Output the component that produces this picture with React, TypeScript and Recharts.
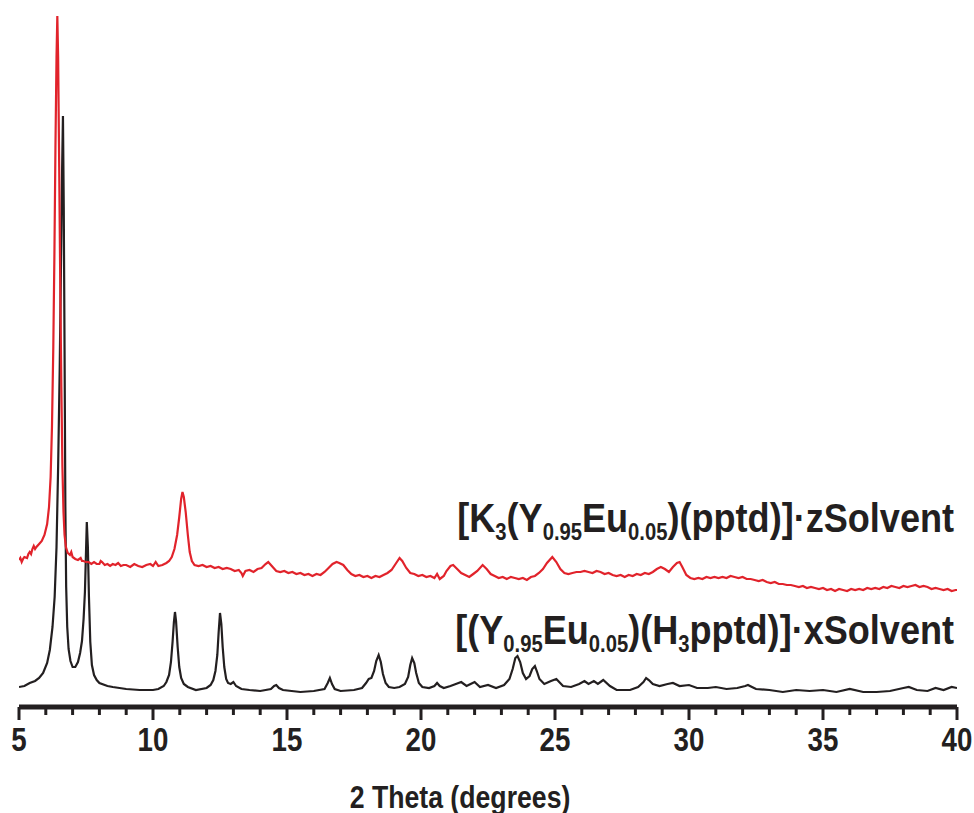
import { LineChart, Line, XAxis, YAxis, Customized } from "recharts";

// 2θ (degrees) vs intensity (a.u.), black = [(Y0.95Eu0.05)(H3pptd)]·xSolvent
const blackScan: [number, number][] = [
  [5.0, 20], [5.2, 21], [5.4, 24], [5.6, 26], [5.75, 29], [5.9, 34], [6.05, 44], [6.15, 57],
  [6.25, 80], [6.33, 110], [6.4, 160], [6.46, 240], [6.52, 340], [6.57, 450], [6.61, 540], [6.64, 591],
  [6.67, 500], [6.7, 357], [6.73, 200], [6.76, 120], [6.8, 80], [6.85, 58], [6.92, 46], [7.0, 40],
  [7.1, 40], [7.2, 45], [7.28, 54], [7.35, 66], [7.41, 88], [7.46, 115], [7.5, 155], [7.53, 185],
  [7.57, 160], [7.61, 110], [7.66, 65], [7.72, 42], [7.8, 32], [7.9, 27], [8.0, 24], [8.3, 21],
  [8.5, 20], [9.0, 18], [9.5, 17], [10.0, 17], [10.2, 18], [10.4, 21], [10.5, 25], [10.6, 32],
  [10.67, 45], [10.73, 65], [10.78, 85], [10.82, 95], [10.86, 86], [10.92, 60], [10.98, 40], [11.05, 29],
  [11.15, 23], [11.3, 20], [11.6, 17], [12.0, 19], [12.15, 22], [12.25, 27], [12.33, 36], [12.4, 52],
  [12.45, 75], [12.5, 94], [12.55, 83], [12.6, 60], [12.66, 40], [12.73, 28], [12.8, 24], [12.9, 23],
  [13.0, 25], [13.1, 21], [13.3, 18], [13.6, 17], [14.0, 16], [14.4, 18], [14.52, 21], [14.6, 22],
  [14.7, 19], [14.85, 17], [15.5, 15], [16.0, 16], [16.4, 18], [16.52, 24], [16.6, 29], [16.68, 23],
  [16.78, 18], [17.0, 16], [17.5, 17], [17.8, 19], [17.95, 24], [18.05, 28], [18.15, 29], [18.25, 36],
  [18.33, 46], [18.42, 52], [18.5, 45], [18.58, 33], [18.68, 24], [18.8, 20], [19.0, 19], [19.2, 20],
  [19.4, 23], [19.52, 30], [19.6, 42], [19.67, 49], [19.75, 44], [19.82, 34], [19.92, 24], [20.05, 20],
  [20.3, 19], [20.5, 21], [20.6, 24], [20.7, 21], [20.85, 19], [21.1, 21], [21.3, 23], [21.5, 25],
  [21.7, 21], [21.85, 23], [22.0, 25], [22.2, 20], [22.5, 22], [22.8, 19], [23.1, 22], [23.3, 28],
  [23.42, 38], [23.52, 49], [23.6, 51], [23.7, 45], [23.8, 34], [23.92, 28], [24.05, 31], [24.15, 38],
  [24.25, 41], [24.32, 36], [24.42, 28], [24.6, 23], [24.85, 26], [25.05, 28], [25.3, 21], [25.6, 20],
  [25.9, 23], [26.1, 26], [26.25, 23], [26.45, 26], [26.6, 23], [26.8, 27], [27.05, 21], [27.3, 17],
  [27.8, 17], [28.1, 20], [28.3, 25], [28.4, 29], [28.5, 27], [28.65, 23], [28.9, 21], [29.2, 23],
  [29.4, 24], [29.65, 21], [30.0, 22], [30.3, 19], [30.7, 19], [31.0, 20], [31.4, 18], [31.8, 19],
  [32.1, 21], [32.2, 22], [32.35, 20], [32.5, 18], [33.0, 17], [33.5, 15], [34.0, 17], [34.5, 16],
  [35.0, 17], [35.5, 15], [36.0, 18], [36.5, 15], [37.0, 15], [37.5, 16], [38.0, 19], [38.2, 20],
  [38.5, 17], [38.9, 16], [39.2, 19], [39.5, 17], [39.8, 20], [40.0, 19],
];

// red = [K3(Y0.95Eu0.05)(pptd)]·zSolvent, offset upward
const redScan: [number, number][] = [
  [5.0, 147], [5.05, 149], [5.1, 145], [5.15, 148], [5.2, 150], [5.3, 149], [5.35, 153], [5.4, 155],
  [5.45, 153], [5.5, 158], [5.55, 161], [5.6, 158], [5.65, 160], [5.75, 163], [5.85, 166], [5.95, 172],
  [6.05, 183], [6.12, 200], [6.18, 230], [6.23, 280], [6.28, 360], [6.32, 450], [6.36, 560], [6.4, 650],
  [6.43, 691], [6.46, 650], [6.5, 540], [6.54, 420], [6.58, 320], [6.62, 240], [6.66, 195], [6.7, 172],
  [6.75, 160], [6.82, 154], [6.9, 152], [6.95, 155], [7.0, 150], [7.1, 148], [7.2, 147], [7.3, 149],
  [7.35, 146], [7.4, 146], [7.5, 145], [7.6, 145], [7.7, 143], [7.8, 145], [7.9, 143], [8.0, 143],
  [8.05, 146], [8.1, 145], [8.2, 142], [8.3, 143], [8.4, 141], [8.5, 143], [8.6, 142], [8.7, 144],
  [8.8, 141], [8.9, 142], [9.0, 142], [9.15, 140], [9.3, 143], [9.45, 141], [9.6, 140], [9.75, 142],
  [9.9, 143], [10.0, 141], [10.1, 145], [10.2, 141], [10.35, 142], [10.5, 144], [10.6, 146], [10.7, 150],
  [10.8, 158], [10.9, 172], [10.98, 190], [11.05, 208], [11.1, 215], [11.15, 210], [11.22, 195], [11.3, 172],
  [11.37, 155], [11.45, 146], [11.55, 142], [11.7, 141], [11.85, 142], [12.0, 140], [12.15, 141], [12.3, 139],
  [12.45, 140], [12.6, 138], [12.75, 139], [12.9, 138], [13.05, 136], [13.2, 137], [13.3, 134], [13.35, 131],
  [13.45, 136], [13.6, 137], [13.75, 135], [13.9, 138], [14.05, 139], [14.2, 143], [14.3, 145], [14.4, 142],
  [14.5, 139], [14.6, 136], [14.75, 135], [14.9, 136], [15.05, 134], [15.2, 135], [15.35, 133], [15.5, 134],
  [15.65, 132], [15.8, 133], [15.95, 131], [16.1, 133], [16.25, 132], [16.4, 135], [16.55, 139], [16.7, 143],
  [16.85, 145], [16.95, 144], [17.1, 142], [17.25, 137], [17.4, 133], [17.55, 131], [17.7, 132], [17.85, 130],
  [18.0, 131], [18.15, 129], [18.3, 131], [18.45, 130], [18.6, 132], [18.75, 134], [18.9, 137], [19.05, 143],
  [19.2, 149], [19.3, 146], [19.45, 139], [19.6, 134], [19.75, 133], [19.9, 131], [20.05, 132], [20.2, 130],
  [20.35, 131], [20.5, 129], [20.6, 133], [20.7, 128], [20.85, 131], [20.95, 136], [21.1, 141], [21.2, 142],
  [21.35, 138], [21.5, 134], [21.65, 132], [21.8, 130], [21.95, 133], [22.1, 136], [22.3, 142], [22.45, 138],
  [22.6, 133], [22.75, 131], [22.9, 129], [23.05, 130], [23.2, 128], [23.35, 130], [23.5, 129], [23.65, 128],
  [23.8, 129], [23.95, 127], [24.1, 130], [24.25, 131], [24.4, 134], [24.55, 138], [24.7, 144], [24.9, 150],
  [25.05, 145], [25.2, 138], [25.35, 134], [25.5, 133], [25.65, 134], [25.8, 135], [25.95, 135], [26.1, 136],
  [26.25, 135], [26.4, 134], [26.55, 136], [26.7, 135], [26.85, 133], [27.0, 134], [27.15, 132], [27.3, 131],
  [27.45, 132], [27.6, 130], [27.75, 132], [27.9, 131], [28.05, 133], [28.2, 132], [28.35, 134], [28.5, 133],
  [28.65, 135], [28.8, 138], [28.95, 140], [29.1, 138], [29.25, 135], [29.4, 140], [29.55, 144], [29.65, 145],
  [29.75, 140], [29.9, 132], [30.05, 129], [30.2, 128], [30.35, 129], [30.5, 128], [30.65, 130], [30.8, 129],
  [30.95, 130], [31.1, 129], [31.25, 130], [31.4, 129], [31.55, 131], [31.7, 130], [31.85, 129], [32.0, 130],
  [32.15, 128], [32.3, 128], [32.45, 127], [32.6, 126], [32.75, 127], [32.9, 125], [33.05, 124], [33.2, 125],
  [33.35, 123], [33.5, 123], [33.65, 122], [33.8, 122], [33.95, 121], [34.1, 120], [34.25, 121], [34.4, 119],
  [34.55, 120], [34.7, 119], [34.85, 118], [35.0, 119], [35.15, 117], [35.3, 118], [35.45, 116], [35.6, 118],
  [35.75, 117], [35.9, 116], [36.05, 118], [36.2, 117], [36.35, 118], [36.5, 117], [36.65, 119], [36.8, 118],
  [36.95, 119], [37.1, 118], [37.25, 120], [37.4, 119], [37.55, 121], [37.7, 120], [37.85, 119], [38.0, 121],
  [38.15, 120], [38.3, 121], [38.45, 122], [38.6, 120], [38.75, 121], [38.9, 120], [39.05, 118], [39.2, 119],
  [39.35, 118], [39.5, 117], [39.65, 118], [39.8, 116], [39.95, 117], [40.0, 117],
];

const xTicks = [
  5, 6, 7, 8, 9, 10, 11, 12, 13, 14, 15, 16, 17, 18, 19, 20, 21, 22,
  23, 24, 25, 26, 27, 28, 29, 30, 31, 32, 33, 34, 35, 36, 37, 38, 39, 40,
];
const majorTicks = [5, 10, 15, 20, 25, 30, 35, 40];

const INK = "#231f20";
const RED = "#e1232b";
const FONT = '"Liberation Sans", Arial, Helvetica, sans-serif';

const blackData = blackScan.map(([x, y]) => ({ x, y }));
const redData = redScan.map(([x, y]) => ({ x, y }));

function ThetaTick(props: any) {
  const { x, y, payload } = props;
  const major = majorTicks.includes(payload.value);
  return (
    <g>
      <line x1={x} x2={x} y1={y} y2={y + (major ? 13 : 8)} stroke={INK} strokeWidth={3} />
      {major && (
        <text
          transform={`translate(${x},${y + 44}) scale(0.84,1)`}
          textAnchor="middle"
          fontFamily={FONT}
          fontWeight="bold"
          fontSize={33}
          fill={INK}
        >
          {payload.value}
        </text>
      )}
    </g>
  );
}

function Annotations() {
  const sub = { fontSize: 23 };
  return (
    <g fontFamily={FONT} fontWeight="bold" fill={INK}>
      <text transform="translate(954,532) scale(0.88,1)" textAnchor="end" fontSize={41}>
        <tspan>[K</tspan>
        <tspan {...sub} dy={8}>3</tspan>
        <tspan dy={-8}>(Y</tspan>
        <tspan {...sub} dy={8}>0.95</tspan>
        <tspan dy={-8}>Eu</tspan>
        <tspan {...sub} dy={8}>0.05</tspan>
        <tspan dy={-8}>)(pptd)]·zSolvent</tspan>
      </text>
      <text transform="translate(954,644) scale(0.88,1)" textAnchor="end" fontSize={41}>
        <tspan>[(Y</tspan>
        <tspan {...sub} dy={8}>0.95</tspan>
        <tspan dy={-8}>Eu</tspan>
        <tspan {...sub} dy={8}>0.05</tspan>
        <tspan dy={-8}>)(H</tspan>
        <tspan {...sub} dy={8}>3</tspan>
        <tspan dy={-8}>pptd)]·xSolvent</tspan>
      </text>
      <text transform="translate(460,808) scale(0.86,1)" textAnchor="middle" fontSize={31}>
        2 Theta (degrees)
      </text>
    </g>
  );
}

export default function App() {
  return (
    <div style={{ position: "absolute", left: 0, top: 0, width: 974, height: 813, background: "#fff" }}>
      <LineChart width={974} height={813} margin={{ top: 7, right: 17, left: 19, bottom: 0 }}>
        <XAxis
          dataKey="x"
          type="number"
          domain={[5, 40]}
          ticks={xTicks}
          interval={0}
          height={106}
          tickSize={0}
          tickMargin={0}
          tickLine={false}
          axisLine={{ stroke: INK, strokeWidth: 5 }}
          tick={<ThetaTick />}
          allowDataOverflow
        />
        <YAxis hide type="number" domain={[0, 700]} allowDataOverflow />
        <Line
          data={blackData}
          dataKey="y"
          type="linear"
          dot={false}
          activeDot={false}
          stroke={INK}
          strokeWidth={2.2}
          isAnimationActive={false}
        />
        <Line
          data={redData}
          dataKey="y"
          type="linear"
          dot={false}
          activeDot={false}
          stroke={RED}
          strokeWidth={2.2}
          isAnimationActive={false}
        />
        <Customized component={Annotations} />
      </LineChart>
    </div>
  );
}
